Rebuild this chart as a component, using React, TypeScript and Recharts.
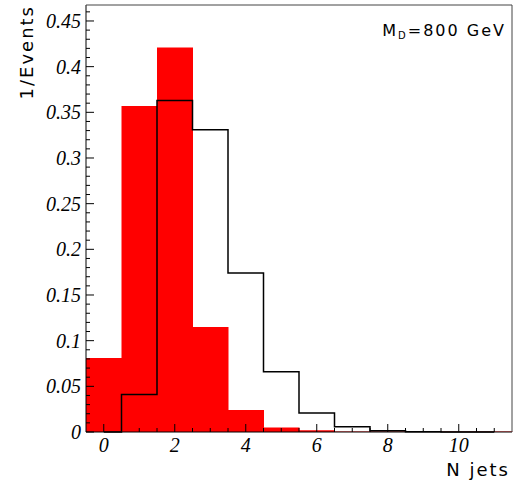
import React from "react";
import { Bar, ComposedChart, Line, XAxis, YAxis } from "recharts";

// N jets bins (bin centres), histogram contents
const nJets = [0, 1, 2, 3, 4, 5, 6, 7, 8, 9, 10, 11];
const redHist = [0.081, 0.357, 0.421, 0.115, 0.024, 0.005, 0.002, 0.0006, 0.0006, 0.0006, 0.0006, 0.0006];
const blackHist = [0, 0.041, 0.363, 0.331, 0.174, 0.066, 0.0208, 0.0058, 0.0014, 0.0003, 0, 0];

const xLabels = [0, 2, 4, 6, 8, 10];
const yLabels = [0, 0.05, 0.1, 0.15, 0.2, 0.25, 0.3, 0.35, 0.4, 0.45];
const yMinorTicks = Array.from({ length: 47 }, (_, i) => i / 100);

const W = 523;
const H = 486;
const LEFT = 86;
const RIGHT = 512;
const TOP = 5;
const BOTTOM = 432;
const BAND = (RIGHT - LEFT) / nJets.length;

const data = nJets.map((n, i) => ({ n, red: redHist[i], black: blackHist[i] }));

const tickStyle: React.CSSProperties = {
  fontFamily: "'Liberation Serif', 'DejaVu Serif', serif",
  fontStyle: "italic",
  fontSize: 20,
  fill: "#000",
};

const titleStyle: React.CSSProperties = {
  fontFamily: "'DejaVu Sans', sans-serif",
  fontSize: 18,
  letterSpacing: 2,
  fill: "#000",
};

const XTick = (props: any) => {
  const { x, y, payload } = props;
  const v = payload.value as number;
  const major = xLabels.includes(v);
  return (
    <g>
      <line x1={x} x2={x} y1={y} y2={y - (major ? 8 : 4)} stroke="#000" />
      {v < nJets.length - 1 && (
        <line x1={x + BAND / 2} x2={x + BAND / 2} y1={y} y2={y - 4} stroke="#000" />
      )}
      {major && (
        <text x={x} y={y + 20} textAnchor="middle" style={tickStyle}>
          {v}
        </text>
      )}
    </g>
  );
};

const YTick = (props: any) => {
  const { x, y, payload } = props;
  const v = payload.value as number;
  const major = yLabels.some((l) => Math.abs(l - v) < 1e-6);
  return (
    <g>
      <line x1={x} x2={x + (major ? 8 : 4)} y1={y} y2={y} stroke="#000" />
      {major && (
        <text x={x - 5} y={y} dy="0.35em" textAnchor="end" style={tickStyle}>
          {String(Number(v.toFixed(2)))}
        </text>
      )}
    </g>
  );
};

export default function App() {
  return (
    <div style={{ position: "absolute", left: 0, top: 0, width: W, height: H, background: "#fff" }}>
      <ComposedChart
        width={W}
        height={H}
        data={data}
        margin={{ top: TOP, right: W - RIGHT, bottom: 0, left: 0 }}
        barCategoryGap={0}
      >
        <XAxis
          dataKey="n"
          type="category"
          interval={0}
          height={H - BOTTOM}
          tickSize={0}
          tickMargin={0}
          tickLine={false}
          tick={<XTick />}
          axisLine={{ stroke: "#000", strokeWidth: 1 }}
        />
        <YAxis
          type="number"
          domain={[0, 0.4675]}
          ticks={yMinorTicks}
          interval={0}
          width={LEFT}
          tickSize={0}
          tickMargin={0}
          tickLine={false}
          tick={<YTick />}
          axisLine={{ stroke: "#000", strokeWidth: 1 }}
        />
        <Bar dataKey="red" fill="#ff0000" isAnimationActive={false} />
        <Line
          dataKey="black"
          type="step"
          stroke="#000"
          strokeWidth={1.5}
          dot={false}
          activeDot={false}
          isAnimationActive={false}
        />
      </ComposedChart>
      <svg
        width={W}
        height={H}
        style={{ position: "absolute", left: 0, top: 0, pointerEvents: "none" }}
      >
        <line x1={LEFT} x2={RIGHT} y1={TOP} y2={TOP} stroke="#444" />
        <line x1={RIGHT} x2={RIGHT} y1={TOP} y2={BOTTOM} stroke="#444" />
        <text x={506} y={36} textAnchor="end" style={{ ...titleStyle, fontSize: 16 }}>
          M<tspan style={{ fontSize: 10 }} dy={3}>D</tspan>
          <tspan dy={-3}>=800 GeV</tspan>
        </text>
        <text x={510} y={476} textAnchor="end" style={titleStyle}>
          N jets
        </text>
        <text transform="translate(33,5) rotate(-90)" textAnchor="end" style={titleStyle}>
          1/Events
        </text>
      </svg>
    </div>
  );
}
